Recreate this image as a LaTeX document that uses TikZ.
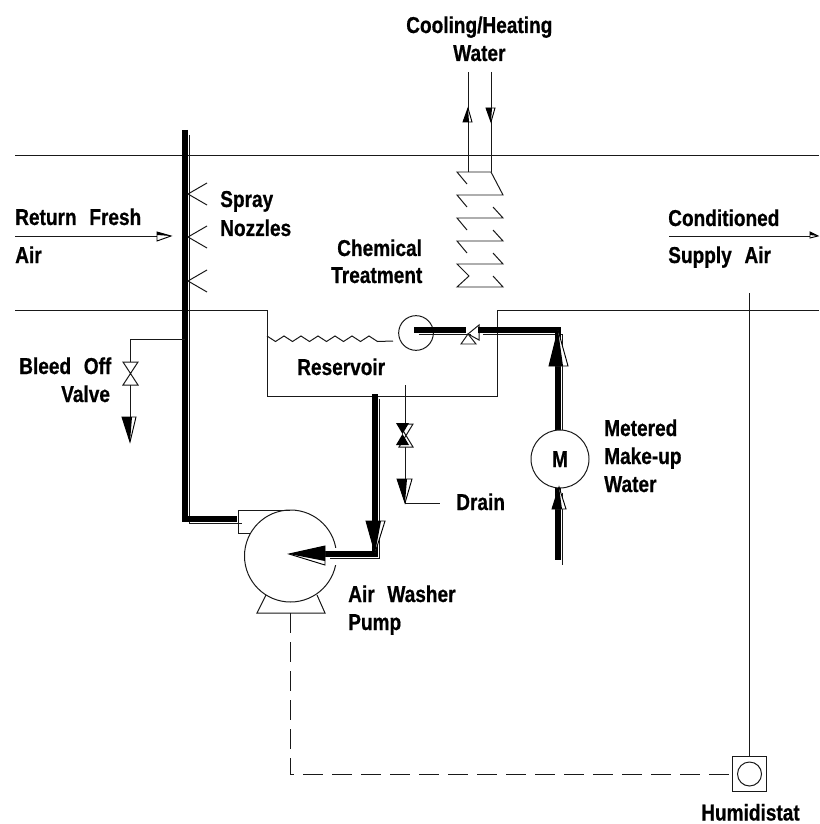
\documentclass[tikz,border=0pt]{standalone}
\usepackage{fontspec}
\setmainfont[FakeStretch=0.83, WordSpace=2.4, BoldFeatures={FakeBold=0.7}]{Liberation Sans}
\def\ventpipe{(ventend) -- (ventelbow) -- (pumpinlet)}
\def\suctionpipe{(sumpoutlet) -- (suctionelbow) -- (suctionend)}
\def\feedpipe{(chemend) -- (valveleft)}
\def\makeuppipe{(valveright) -- (makeupelbow) -- (makeupelbow |- motor.north)}
\def\meterpipe{(meterend |- motor.south) -- (meterend)}
\def\twinhead#1#2#3#4{\draw[headedge] #1 -- #2 -- #4 -- cycle; \fill #1 -- #2 -- #3 -- cycle;}
\colorlet{line edge}{black!90}
\tikzset{plain/.style={draw=line edge, line width=0.85pt},
    pipe/.style={draw=black, line width=4.8pt},
    pipeedge/.style={draw=line edge, line width=0.8pt, transform canvas={xshift=0.145cm, yshift=-0.145cm}},
    headedge/.style={draw=black, line width=0.8pt, fill=white},
    ring/.style={circle, draw=line edge, line width=0.85pt, inner sep=0pt},
    tag/.style={anchor=base west, inner sep=0pt, font=\bfseries\fontsize{19.6}{20}\selectfont}}

\begin{document}
\begin{tikzpicture}[x=0.03cm, y=-0.03cm]
    \useasboundingbox (0,0) rectangle (819,824);
    % air duct and reservoir
    \coordinate (ductleft) at (15,310);
    \coordinate (sumpa) at (267,310);
    \coordinate (sumpb) at (267,396);
    \coordinate (sumpc) at (497,396);
    \coordinate (sumpd) at (497,310);
    \coordinate (ductright) at (819,310);
    \draw[plain] (15,155) -- (819,155);
    \draw[plain] (ductleft) -- (sumpa) -- (sumpb) -- (sumpc) -- (sumpd) -- (ductright);
    \draw[plain] (267,336) \foreach \i in {1,...,6} { -- ++(8.5,5.5) -- ++(8.5,-5.5)} -- ++(8.5,5.5) -- (393,341);
    % air streams
    \coordinate (returnstart) at (15,236);
    \coordinate (returnend) at (160,236);
    \coordinate (supplystart) at (669,236);
    \coordinate (supplyend) at (811,236);
    \draw[plain] (returnstart) -- (returnend);
    \twinhead{(171,236)}{(157,232)}{(157,235)}{(157,241)}
    \draw[plain] (supplystart) -- (supplyend);
    \twinhead{(818,236)}{(810,232)}{(810,235)}{(810,238)}
    % cooling coil
    \coordinate (coilout) at (468,172);
    \coordinate (coilin) at (491,172);
    \coordinate (coilouttop) at (468,72);
    \coordinate (coilintop) at (491,72);
    \draw[plain] (coilout) -- (coilouttop);
    \draw[plain] (coilintop) -- (coilin);
    \draw[plain] (467,184) -- (457,172) -- (491,172) -- (503,195) -- (457,195) -- (467,207);
    \foreach \y in {218,241}
        \draw[plain] (467,\y+12) -- (457,\y) -- (503,\y) -- (493,\y-11);
    \draw[plain] (493,253) -- (503,264) -- (457,264) -- (469,276) -- (457,287) -- (503,287) -- (493,276);
    \twinhead{(468,108)}{(463,122)}{(469,122)}{(472,122)}
    \twinhead{(491,122)}{(486,108)}{(492,108)}{(495,108)}
    % spray header
    \coordinate (ventend) at (185,130);
    \coordinate (ventelbow) at (185,519);
    \coordinate (pumpinlet) at (237,519);
    \draw[pipeedge] \ventpipe;
    \draw[pipe] \ventpipe;
    \foreach \y in {194,237,281}
        \draw[plain] (207,\y-11) -- (188,\y) -- (207,\y+11);
    % bleed off
    \coordinate (bleedtap) at (185,339);
    \coordinate (bleedcorner) at (130,339);
    \coordinate (bleedvalve) at (130,362);
    \coordinate (bleedvalveb) at (130,385);
    \coordinate (bleedend) at (130,430);
    \draw[plain] (bleedtap) -- (bleedcorner) -- (bleedvalve);
    \draw[plain] (123,362) -- (138,362) -- (123,385) -- (138,385) -- cycle;
    \draw[plain] (bleedvalveb) -- (bleedend);
    \twinhead{(130,442)}{(122,417)}{(132,417)}{(136,417)}
    % pump
    \node[ring, minimum size=2.76cm] (pump) at (290.5,556) {};
    \draw[plain] (290,510) -- (238,510) -- (238,533) -- (250,533);
    \draw[plain] (266,595) -- (257,613) -- (325,613) -- (317,595);
    \fill[white] (326,548) rectangle (345,565);
    % suction
    \coordinate (sumpoutlet) at (375,394);
    \coordinate (suctionelbow) at (375,554);
    \coordinate (suctionend) at (325,554);
    \draw[pipeedge] \suctionpipe;
    \draw[pipe] \suctionpipe;
    \twinhead{(375,553)}{(366,521)}{(381,521)}{(385,521)}
    \twinhead{(289,554)}{(325,546)}{(325,561)}{(325,565)}
    % chemical treatment
    \node[ring, minimum size=1.04cm] (chem) at (416,333) {};
    \coordinate (chemend) at (414,330);
    \coordinate (valveleft) at (466,330);
    \coordinate (valveright) at (478,330);
    \coordinate (makeupelbow) at (558,330);
    \draw[plain] (468,334) -- (479,325) -- (479,340) -- cycle;
    \draw[plain] (468,334) -- (461,344) -- (476,344) -- cycle;
    % make-up water
    \path (560,459) node[circle, minimum size=1.74cm, inner sep=0pt] (motor) {};
    \coordinate (meterend) at (558,560);
    \draw[pipeedge] \feedpipe;
    \draw[pipe] \feedpipe;
    \draw[pipeedge] \makeuppipe;
    \draw[pipe] \makeuppipe;
    \draw[pipeedge] \meterpipe;
    \draw[pipe] \meterpipe;
    \node[ring, fill=white, minimum size=1.74cm] (motorring) at (motor) {};
    \node[tag, anchor=base] (motorlabel) at (560,467) {M};
    \twinhead{(558,330)}{(549,366)}{(563,366)}{(568,366)}
    \twinhead{(559,487)}{(552,509)}{(562,509)}{(566,509)}
    % drain
    \coordinate (draintop) at (405,385);
    \coordinate (draintip) at (405,503);
    \coordinate (drainend) at (440,503);
    \draw[plain] (draintop) -- (draintip) -- (drainend);
    \draw[plain, fill=white] (399,424) -- (413,424) -- (399,447) -- (413,447) -- cycle;
    \fill (396,423) -- (409,423) -- (396,445) -- (409,445) -- cycle;
    \twinhead{(405,503)}{(397,479)}{(407,479)}{(412,479)}
    % humidistat
    \node[draw=line edge, line width=0.85pt, minimum size=1.03cm, inner sep=0pt] (stat) at (749.5,774) {};
    \node[ring, minimum size=0.72cm] (statdial) at (749.5,774) {};
    \coordinate (statsensor) at (749.5,293);
    \coordinate (pumpfoot) at (290,613);
    \coordinate (dashcorner) at (290,774);
    \draw[plain] (statsensor) -- (stat.north);
    \draw[plain, dash pattern=on 0.6cm off 0.27cm] (pumpfoot) -- (dashcorner) -- (stat.west);
    % labels
    \node[tag] (coolinglabel) at (406,33) {Cooling/Heating};
    \node[tag] (waterlabel) at (453,61) {Water};
    \node[tag] (returnlabel) at (15,225) {Return Fresh};
    \node[tag] (airlabel) at (15,263) {Air};
    \node[tag] (spraylabel) at (220,207) {Spray};
    \node[tag] (nozzlelabel) at (220,236) {Nozzles};
    \node[tag] (chemlabel) at (337,256) {Chemical};
    \node[tag] (treatlabel) at (331,283) {Treatment};
    \node[tag] (condlabel) at (668,226) {Conditioned};
    \node[tag] (supplylabel) at (668,263) {Supply Air};
    \node[tag] (sumplabel) at (297,375) {Reservoir};
    \node[tag] (bleedlabel) at (19,374) {Bleed Off};
    \node[tag] (valvelabel) at (61,402) {Valve};
    \node[tag] (meterlabel) at (604,436) {Metered};
    \node[tag] (makelabel) at (604,464) {Make-up};
    \node[tag] (feedlabel) at (604,492) {Water};
    \node[tag] (drainlabel) at (456,510) {Drain};
    \node[tag] (washerlabel) at (348,602) {Air Washer};
    \node[tag] (pumplabel) at (348,630) {Pump};
    \node[tag] (statlabel) at (701,820.5) {Humidistat};
\end{tikzpicture}
\end{document}
